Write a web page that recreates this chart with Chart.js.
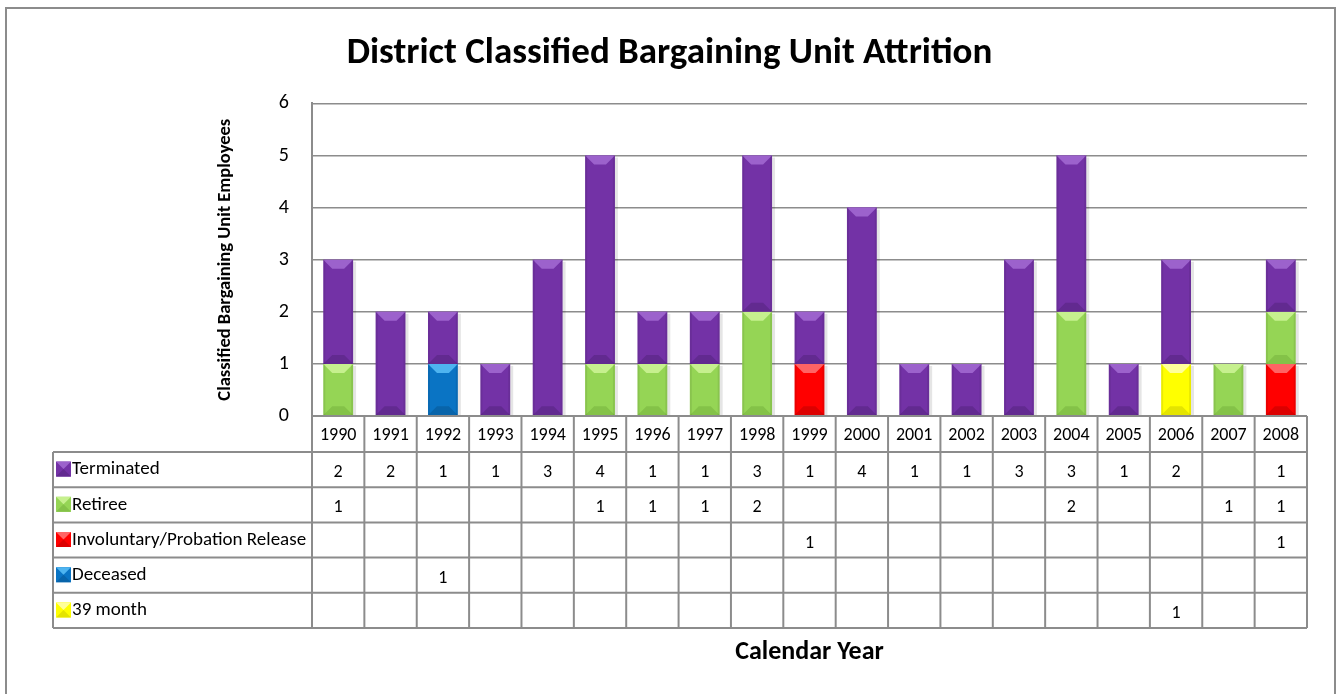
<!DOCTYPE html>
<html>
<head>
<meta charset="utf-8">
<script src="https://cdn.jsdelivr.net/npm/chart.js@4"></script>
<style>
  html, body { margin: 0; padding: 0; background: #fff; overflow: hidden; }
  #frame { position: absolute; left: 5px; top: 7px; width: 1327px; height: 720px; border: 2px solid #8c8c8c; }
  #wrap { position: absolute; left: 0; top: 0; width: 1339px; height: 694px; }
</style>
</head>
<body>
<div id="frame"></div>
<div id="wrap"><canvas id="chart"></canvas></div>
<script>
// Chart data
const years = ['1990','1991','1992','1993','1994','1995','1996','1997','1998','1999',
               '2000','2001','2002','2003','2004','2005','2006','2007','2008'];
const terminated  = [2, 2, 1, 1, 3, 4, 1, 1, 3, 1, 4, 1, 1, 3, 3, 1, 2, null, 1];
const retiree     = [1, null, null, null, null, 1, 1, 1, 2, null, null, null, null, null, 2, null, null, 1, 1];
const involuntary = [null, null, null, null, null, null, null, null, null, 1, null, null, null, null, null, null, null, null, 1];
const deceased    = [null, null, 1, null, null, null, null, null, null, null, null, null, null, null, null, null, null, null, null];
const month39     = [null, null, null, null, null, null, null, null, null, null, null, null, null, null, null, null, 1, null, null];
const yTicks = [0, 1, 2, 3, 4, 5, 6];

const FONT = 'Carlito, Lato, "Open Sans", sans-serif';

// colours: base, light bevel, dark bevel
const shades = {
  'Terminated': ['#7332a6', '#9c62cc', '#622a90'],
  'Retiree': ['#95d555', '#c6f08e', '#84c248'],
  'Involuntary/Probation Release': ['#ff0000', '#ff6464', '#dc0000'],
  'Deceased': ['#0a74c4', '#4eb4f0', '#0864aa'],
  '39 month': ['#ffff00', '#ffff9a', '#e4e400']
};

// stacking order is bottom-up, table order is top-down
const datasets = [
  { label: '39 month', data: month39 },
  { label: 'Deceased', data: deceased },
  { label: 'Involuntary/Probation Release', data: involuntary },
  { label: 'Retiree', data: retiree },
  { label: 'Terminated', data: terminated }
].map(d => ({
  ...d,
  backgroundColor: shades[d.label][0],
  borderWidth: 0,
  barPercentage: 0.57,
  categoryPercentage: 1.0
}));
const tableRows = ['Terminated', 'Retiree', 'Involuntary/Probation Release', 'Deceased', '39 month'];

// draws the bevel on each bar segment
const bevelPlugin = {
  id: 'bevel',
  afterDatasetsDraw(chart) {
    const ctx = chart.ctx;
    chart.data.datasets.forEach((ds, di) => {
      const meta = chart.getDatasetMeta(di);
      const sh = shades[ds.label];
      meta.data.forEach((bar, i) => {
        if (ds.data[i] == null) return;
        const p = bar.getProps(['x', 'y', 'base', 'width'], true);
        const l = p.x - p.width / 2, r = p.x + p.width / 2;
        const t = Math.min(p.y, p.base), b = Math.max(p.y, p.base);
        const bv = 9;
        ctx.save();
        // shadow on right
        ctx.fillStyle = 'rgba(0,0,0,0.10)';
        ctx.fillRect(r, t + 2, 3, b - t - 2);
        // top light
        ctx.fillStyle = sh[1];
        ctx.beginPath();
        ctx.moveTo(l, t); ctx.lineTo(r, t);
        ctx.lineTo(r - bv, t + bv); ctx.lineTo(l + bv, t + bv);
        ctx.closePath(); ctx.fill();
        // bottom dark
        ctx.fillStyle = sh[2];
        ctx.beginPath();
        ctx.moveTo(l, b); ctx.lineTo(r, b);
        ctx.lineTo(r - bv, b - bv); ctx.lineTo(l + bv, b - bv);
        ctx.closePath(); ctx.fill();
        // side edges
        ctx.fillStyle = 'rgba(0,0,0,0.08)';
        ctx.fillRect(l, t, 2, b - t);
        ctx.fillRect(r - 2, t, 2, b - t);
        ctx.restore();
      });
    });
  }
};

// data table under the plot
const tablePlugin = {
  id: 'dataTable',
  afterDraw(chart) {
    const ctx = chart.ctx;
    const xs = chart.scales.x;
    const area = chart.chartArea;
    const n = years.length;
    const cw = (xs.right - xs.left) / n;
    const headH = 36, rowH = 35.2;
    const tableTop = area.bottom + headH;
    const tableBottom = tableTop + rowH * tableRows.length;
    const leftX = 53;
    ctx.save();
    ctx.strokeStyle = '#8c8c8c';
    ctx.lineWidth = 2;
    // vertical lines
    for (let i = 0; i <= n; i++) {
      const x = xs.left + i * cw;
      ctx.beginPath();
      ctx.moveTo(x, area.bottom); ctx.lineTo(x, tableBottom); ctx.stroke();
    }
    ctx.beginPath();
    ctx.moveTo(leftX, tableTop); ctx.lineTo(leftX, tableBottom); ctx.stroke();
    // horizontal lines
    ctx.beginPath();
    ctx.moveTo(xs.left, area.bottom); ctx.lineTo(xs.right, area.bottom); ctx.stroke();
    for (let r = 0; r <= tableRows.length; r++) {
      const y = tableTop + r * rowH;
      ctx.beginPath();
      ctx.moveTo(leftX, y); ctx.lineTo(xs.right, y); ctx.stroke();
    }
    // rows
    ctx.fillStyle = '#000';
    ctx.textBaseline = 'middle';
    tableRows.forEach((name, r) => {
      const cy = tableTop + r * rowH + rowH / 2;
      const sh = shades[name];
      // legend key
      const kx = leftX + 3, ky = cy - 8, ks = 15;
      ctx.fillStyle = sh[0];
      ctx.fillRect(kx, ky, ks, ks);
      ctx.fillStyle = sh[1];
      ctx.beginPath();
      ctx.moveTo(kx, ky); ctx.lineTo(kx + ks, ky); ctx.lineTo(kx + ks / 2, ky + ks / 2); ctx.closePath(); ctx.fill();
      ctx.fillStyle = sh[2];
      ctx.beginPath();
      ctx.moveTo(kx, ky + ks); ctx.lineTo(kx + ks, ky + ks); ctx.lineTo(kx + ks / 2, ky + ks / 2); ctx.closePath(); ctx.fill();
      ctx.fillStyle = '#000';
      ctx.textAlign = 'left';
      ctx.font = '19px ' + FONT;
      ctx.fillText(name, kx + ks + 1, cy);
      const ds = chart.data.datasets.find(d => d.label === name);
      ctx.textAlign = 'center';
      ctx.font = '18px ' + FONT;
      ds.data.forEach((v, i) => {
        if (v == null) return;
        ctx.fillText(String(v), xs.getPixelForValue(i), cy + 3);
      });
    });
    ctx.restore();
  }
};

new Chart(document.getElementById('chart'), {
  type: 'bar',
  data: { labels: years, datasets },
  plugins: [bevelPlugin, tablePlugin],
  options: {
    responsive: true,
    maintainAspectRatio: false,
    animation: false,
    layout: { padding: 0 },
    plugins: {
      legend: { display: false },
      tooltip: { enabled: false },
      title: {
        display: true,
        text: 'District Classified Bargaining Unit Attrition',
        color: '#000',
        font: { family: FONT, size: 37, weight: 'bold' },
        padding: { top: 32, bottom: 27 }
      }
    },
    scales: {
      x: {
        stacked: true,
        grid: { display: false, drawTicks: false },
        border: { display: false },
        ticks: { color: '#000', font: { family: FONT, size: 18 }, padding: 9, maxRotation: 0, autoSkip: false },
        title: {
          display: true,
          text: 'Calendar Year',
          color: '#000',
          font: { family: FONT, size: 26, weight: 'bold' },
          padding: { top: 0, bottom: 26 }
        },
        afterFit(scale) { scale.height = 278; }
      },
      y: {
        stacked: true,
        min: 0,
        max: 6,
        afterBuildTicks(scale) { scale.ticks = yTicks.map(v => ({ value: v })); },
        grid: { color: '#8c8c8c', lineWidth: 1.5, drawTicks: false },
        border: { display: true, color: '#8c8c8c', width: 2 },
        ticks: { color: '#000', font: { family: FONT, size: 20 }, padding: 23 },
        title: {
          display: true,
          text: 'Classified Bargaining Unit Employees',
          color: '#000',
          font: { family: FONT, size: 18.5, weight: 'bold' },
          padding: { top: 214, bottom: 0 }
        },
        afterFit(scale) { scale.width = 312; }
      },
      // empty right-hand gutter so the title stays centred on the page
      y2: {
        position: 'right',
        grid: { display: false, drawTicks: false },
        border: { display: false },
        ticks: { display: false },
        afterFit(scale) { scale.width = 32; }
      }
    }
  }
});
</script>
</body>
</html>
